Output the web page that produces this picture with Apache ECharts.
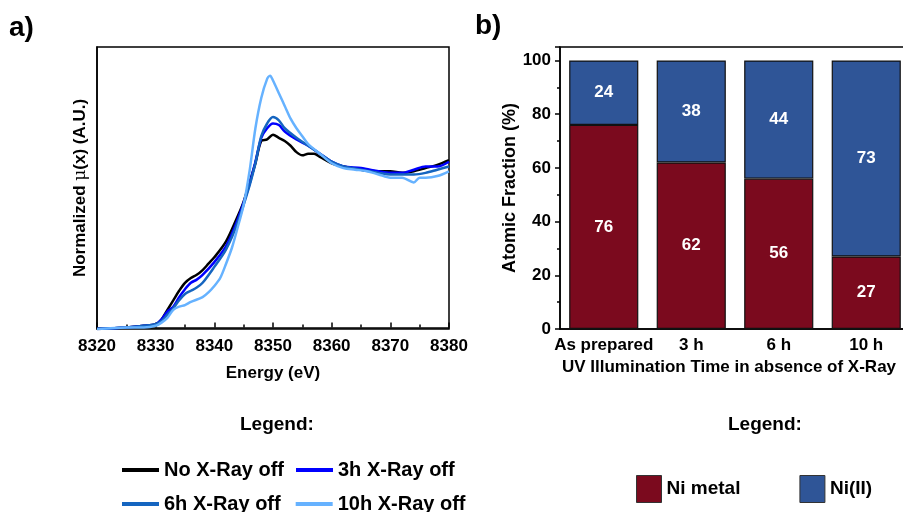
<!DOCTYPE html>
<html>
<head>
<meta charset="utf-8">
<script src="https://cdn.jsdelivr.net/npm/echarts@6/dist/echarts.min.js"></script>
<style>
  html, body { margin: 0; padding: 0; background: #fff; }
  #main { width: 903px; height: 512px; }
</style>
</head>
<body>
<div id="main"></div>
<script>
// ---- panel a: XANES spectra (energy eV, normalized mu) ----
var noXray = [
  [8320,-0.01],[8325,0.00],[8328,0.01],[8330,0.02],[8331,0.05],[8332,0.11],[8333,0.17],[8334,0.23],
  [8335,0.28],[8336,0.31],[8337,0.33],[8338,0.36],[8339,0.40],[8340,0.44],[8342,0.54],[8344,0.70],
  [8345,0.79],[8346,0.91],[8347,1.03],[8348,1.17],[8349,1.18],[8350,1.21],[8351,1.19],[8352,1.17],
  [8353,1.14],[8354,1.10],[8355,1.08],[8356,1.09],[8357,1.09],[8358,1.07],[8360,1.03],[8362,1.01],
  [8365,0.99],[8368,0.98],[8370,0.98],[8372,0.97],[8374,0.98],[8376,1.00],[8378,1.02],[8380,1.05]
];
var h3Xray = [
  [8320,-0.01],[8325,0.00],[8328,0.01],[8330,0.02],[8331,0.05],[8332,0.10],[8333,0.13],[8334,0.19],
  [8335,0.24],[8336,0.28],[8337,0.30],[8338,0.33],[8340,0.41],[8342,0.51],[8344,0.68],[8346,0.90],
  [8347,1.04],[8348,1.19],[8349,1.25],[8350,1.28],[8351,1.27],[8352,1.23],[8354,1.18],[8356,1.14],
  [8358,1.09],[8360,1.04],[8362,1.01],[8365,1.00],[8368,0.98],[8370,0.97],[8372,0.97],[8374,0.99],
  [8376,1.01],[8378,1.01],[8380,1.04]
];
var h6Xray = [
  [8320,-0.01],[8325,0.00],[8328,0.01],[8330,0.02],[8331,0.04],[8332,0.08],[8333,0.12],[8334,0.17],
  [8335,0.21],[8336,0.23],[8337,0.25],[8338,0.28],[8340,0.38],[8342,0.49],[8344,0.66],[8346,0.89],
  [8347,1.03],[8348,1.20],[8349,1.28],[8350,1.32],[8351,1.30],[8352,1.25],[8354,1.19],[8356,1.14],
  [8358,1.09],[8360,1.04],[8362,1.01],[8365,0.99],[8368,0.97],[8370,0.96],[8372,0.96],[8374,0.96],
  [8376,0.97],[8378,0.99],[8380,1.01]
];
var h10Xray = [
  [8320,-0.01],[8325,0.00],[8328,0.00],[8330,0.01],[8331,0.03],[8332,0.06],[8333,0.11],[8334,0.13],
  [8335,0.14],[8336,0.16],[8338,0.19],[8339,0.22],[8340,0.26],[8341,0.31],[8342,0.40],[8343,0.50],
  [8344,0.63],[8345,0.77],[8346,0.98],[8347,1.25],[8348,1.44],[8349,1.56],[8349.5,1.58],[8350,1.55],
  [8351,1.47],[8352,1.39],[8353,1.31],[8354,1.25],[8355,1.20],[8356,1.15],[8358,1.09],[8360,1.03],
  [8362,1.00],[8364,0.99],[8366,0.98],[8368,0.96],[8370,0.94],[8372,0.94],[8374,0.91],[8375,0.94],
  [8376,0.94],[8378,0.95],[8380,0.98]
];
var lineNames = ['No X-Ray off', '3h X-Ray off', '6h X-Ray off', '10h X-Ray off'];

// ---- panel b: atomic fractions ----
var categories = ['As prepared', '3 h', '6 h', '10 h'];
var niMetal = [76, 62, 56, 27];
var niII = [24, 38, 44, 73];
var barNames = ['Ni metal', 'Ni(II)'];

var FONT = 'Liberation Sans, Arial, sans-serif';
var chart = echarts.init(document.getElementById('main'));

function lineSeries(name, data, color) {
  return {
    name: name, type: 'line', data: data, xAxisIndex: 0, yAxisIndex: 0,
    showSymbol: false, smooth: 0.3,
    lineStyle: { color: color, width: 2.5 }, itemStyle: { color: color }
  };
}
function barSeries(name, data, color) {
  return {
    name: name, type: 'bar', stack: 'frac', data: data, xAxisIndex: 1, yAxisIndex: 1,
    barWidth: '79%',
    itemStyle: { color: color, borderColor: '#111', borderWidth: 1.2 },
    label: { show: true, position: 'inside', color: '#fff', fontFamily: FONT, fontWeight: 'bold', fontSize: 17 }
  };
}

var legendText = { fontFamily: FONT, fontWeight: 'bold', fontSize: 20, color: '#000' };

var option = {
  animation: false,
  backgroundColor: '#fff',
  textStyle: { fontFamily: FONT },
  grid: [
    { left: 97, top: 47, right: 454, bottom: 183, show: true, borderColor: '#000', borderWidth: 1.5, backgroundColor: 'transparent', outerBoundsMode: 'none' },
    { left: 560, top: 47, width: 350, bottom: 183, show: true, borderColor: '#000', borderWidth: 1.5, backgroundColor: 'transparent', outerBoundsMode: 'none' }
  ],
  xAxis: [
    {
      gridIndex: 0, type: 'value', min: 8320, max: 8380, interval: 10,
      name: 'Energy (eV)', nameLocation: 'middle', nameGap: 36,
      nameTextStyle: { fontFamily: FONT, fontWeight: 'bold', fontSize: 17, color: '#000' },
      axisLine: { lineStyle: { color: '#000', width: 1.5 } },
      axisTick: { inside: true, length: 5, lineStyle: { color: '#000', width: 1.5 } },
      minorTick: { show: true, splitNumber: 2, length: 3, lineStyle: { color: '#000', width: 1.5 } },
      axisLabel: {
        margin: 9, fontFamily: FONT, fontWeight: 'bold', fontSize: 17, color: '#000',
        formatter: function (v) { return String(v); }
      },
      splitLine: { show: false }
    },
    {
      gridIndex: 1, type: 'category', data: categories,
      name: 'UV Illumination Time in absence of X-Ray', nameLocation: 'middle', nameGap: 30,
      nameTextStyle: { fontFamily: FONT, fontWeight: 'bold', fontSize: 17, color: '#000', padding: [0, 0, 0, -12] },
      axisLine: { lineStyle: { color: '#000', width: 1.5 } },
      axisTick: { alignWithLabel: true, length: 5, lineStyle: { color: '#000', width: 1.5 } },
      axisLabel: { interval: 0, margin: 8, fontFamily: FONT, fontWeight: 'bold', fontSize: 17, color: '#000' }
    }
  ],
  yAxis: [
    {
      gridIndex: 0, type: 'value', min: -0.01, max: 1.76,
      name: 'Normalized {m|\u03bc}(x) (A.U.)', nameLocation: 'middle', nameGap: 8,
      nameTextStyle: {
        fontFamily: FONT, fontWeight: 'bold', fontSize: 17, color: '#000',
        rich: { m: { fontFamily: 'DejaVu Serif', fontWeight: 'normal', fontSize: 17, color: '#000' } }
      },
      axisLine: { show: true, lineStyle: { color: '#000', width: 1.5 } },
      axisTick: { show: false }, axisLabel: { show: false }, splitLine: { show: false }
    },
    {
      gridIndex: 1, type: 'value', min: 0, max: 105, interval: 20,
      name: 'Atomic Fraction (%)', nameLocation: 'middle', nameGap: 40,
      nameTextStyle: { fontFamily: FONT, fontWeight: 'bold', fontSize: 18, color: '#000' },
      axisLine: { show: true, lineStyle: { color: '#000', width: 1.5 } },
      axisTick: { show: true, length: 5, lineStyle: { color: '#000', width: 1.5 } },
      minorTick: { show: true, splitNumber: 2, length: 3, lineStyle: { color: '#000', width: 1.5 } },
      axisLabel: {
        margin: 9, fontFamily: FONT, fontWeight: 'bold', fontSize: 17, color: '#000',
        formatter: function (v) { return v % 20 === 0 ? String(v) : ''; }
      },
      splitLine: { show: false }
    }
  ],
  legend: [
    { data: lineNames.slice(0, 2), left: 117, top: 455, itemGap: 12, icon: 'rect', itemWidth: 37, itemHeight: 4, textStyle: legendText, selectedMode: false },
    { data: lineNames.slice(2, 4), left: 117, top: 489, itemGap: 15, icon: 'rect', itemWidth: 37, itemHeight: 4, textStyle: legendText, selectedMode: false },
    {
      data: barNames, left: 631, top: 470, itemGap: 59, icon: 'rect', itemWidth: 25, itemHeight: 27,
      itemStyle: { borderColor: '#333', borderWidth: 1 },
      textStyle: { fontFamily: FONT, fontWeight: 'bold', fontSize: 19, color: '#000' },
      selectedMode: false
    }
  ],
  graphic: [
    { type: 'text', left: 9, top: 14, style: { text: 'a)', font: 'bold 28px ' + FONT, fill: '#000' } },
    { type: 'text', left: 475, top: 12, style: { text: 'b)', font: 'bold 28px ' + FONT, fill: '#000' } },
    { type: 'text', left: 240, top: 415, style: { text: 'Legend:', font: 'bold 19px ' + FONT, fill: '#000' } },
    { type: 'text', left: 728, top: 415, style: { text: 'Legend:', font: 'bold 19px ' + FONT, fill: '#000' } }
  ],
  series: [
    lineSeries(lineNames[0], noXray, '#000000'),
    lineSeries(lineNames[1], h3Xray, '#0000ff'),
    lineSeries(lineNames[2], h6Xray, '#1565c0'),
    lineSeries(lineNames[3], h10Xray, '#66b2ff'),
    barSeries(barNames[0], niMetal, '#7b0a1e'),
    barSeries(barNames[1], niII, '#2f5597')
  ]
};
chart.setOption(option);
</script>
</body>
</html>
